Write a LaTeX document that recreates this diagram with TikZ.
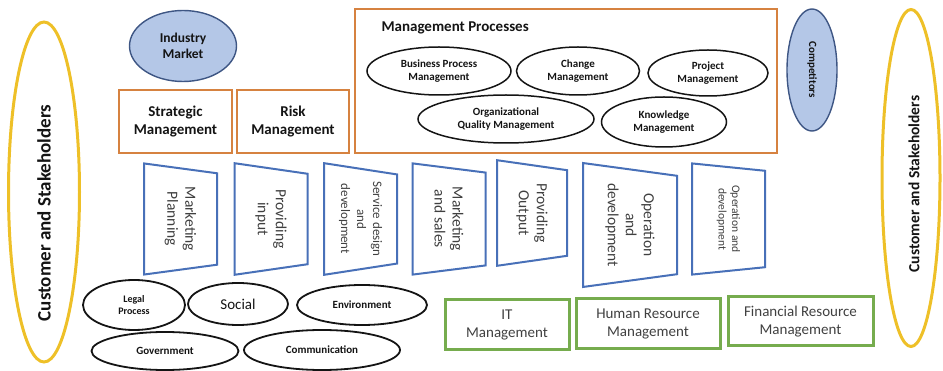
\documentclass[tikz,border=0pt]{standalone}
\usepackage{fontspec}
\setmainfont{Carlito}
\usetikzlibrary{shapes.geometric}
\definecolor{gold}{RGB}{238,192,40}
\definecolor{rust}{RGB}{214,130,64}
\definecolor{steel}{RGB}{72,112,184}
\definecolor{paleblue}{RGB}{180,199,231}
\definecolor{slate}{RGB}{62,86,132}
\definecolor{leaf}{RGB}{118,172,78}
\definecolor{ink}{RGB}{20,20,20}
\definecolor{charcoal}{RGB}{64,64,64}
\newcommand{\setfs}[2]{\fontsize{#1}{#2}\selectfont}

\begin{document}
\begin{tikzpicture}[x=1pt, y=-1pt,
    stakeholder/.style={ellipse, draw=gold, line width=3pt, inner sep=0pt},
    ringtext/.style={text=ink, font=\bfseries\setfs{19}{22}},
    actor/.style={ellipse, draw=slate, line width=1.4pt, fill=paleblue, inner sep=0pt, align=center, text=ink},
    mgmtbox/.style={draw=rust, line width=2.5pt, inner sep=0pt, align=center, text=ink, font=\bfseries\setfs{15}{18}},
    process/.style={ellipse, draw=ink, line width=1.5pt, inner sep=0pt, align=center, text=ink, font=\bfseries\setfs{11}{13.5}},
    stagebox/.style={trapezium, trapezium stretches=true, trapezium angle=77.6, rotate=-90, draw=steel, line width=2pt, inner sep=0pt, align=center, text=charcoal, font=\setfs{15.5}{18}},
    factor/.style={ellipse, draw=ink, line width=1.8pt, inner sep=0pt, align=center, text=ink, font=\bfseries\setfs{11}{13.5}},
    resource/.style={draw=leaf, line width=3pt, inner sep=0pt, align=center, text=charcoal, font=\setfs{15}{18}}]
  \useasboundingbox (0,0) rectangle (943,371);

  % customers and stakeholders on both sides
  \node[stakeholder, minimum width=71, minimum height=340] (custL) at (44,192) {};
  \node[ringtext, rotate=90] (custLtext) at (44,213) {Customer and Stakeholders};
  \node[stakeholder, minimum width=58, minimum height=337] (custR) at (911,178) {};
  \node[ringtext, rotate=90, font=\bfseries\setfs{15.5}{18}] (custRtext) at (914,184) {Customer and Stakeholders};

  % top row
  \node[actor, minimum width=107, minimum height=71, font=\bfseries\setfs{13.5}{16.5}] (market) at (183,46) {Industry\\Market};
  \node[mgmtbox, minimum width=113, minimum height=63] (strategic) at (175.5,121.5) {Strategic\\Management};
  \node[mgmtbox, minimum width=112, minimum height=63] (risk) at (293,121.5) {Risk\\Management};
  \node[mgmtbox, minimum width=422, minimum height=144] (mgmt) at (566,81) {};
  \node[anchor=west, text=ink, font=\bfseries\setfs{15}{18}] (mgmttitle) at (378,28) {Management Processes};
  \node[process, minimum width=144, minimum height=48] (bpm) at (439,71) {Business Process\\Management};
  \node[process, minimum width=123, minimum height=48] (change) at (578,71) {Change\\Management};
  \node[process, minimum width=120, minimum height=46] (project) at (708,73) {Project\\Management};
  \node[process, minimum width=176, minimum height=48] (quality) at (506,119) {Organizational\\Quality Management};
  \node[process, minimum width=125, minimum height=50] (knowledge) at (664,122) {Knowledge\\Management};
  \node[actor, minimum width=122, minimum height=50, rotate=-90, font=\bfseries\setfs{11}{13}] (competitors) at (812,70) {Competitors};

  % value chain stages
  \node[stagebox, minimum width=112, minimum height=73] (mplan) at (180.5,219) {Marketing\\Planning};
  \node[stagebox, minimum width=112, minimum height=73] (input) at (271,219) {Providing\\input};
  \node[stagebox, minimum width=112, minimum height=73, font=\setfs{13}{16}] (service) at (360.5,219) {Service design\\and\\development};
  \node[stagebox, minimum width=112, minimum height=73] (sales) at (449,219) {Marketing\\and sales};
  \node[stagebox, minimum width=106, minimum height=70] (output) at (532,213) {Providing\\Output};
  \node[stagebox, minimum width=124, minimum height=94] (operation) at (630,225) {Operation\\and\\development};
  \node[stagebox, minimum width=112, minimum height=73, font=\setfs{11.5}{13.5}] (operation2) at (728.5,219) {Operation and\\development};

  % environment factors
  \node[factor, minimum width=102, minimum height=50, font=\bfseries\setfs{10}{12.5}] (legal) at (134,305) {Legal\\Process};
  \node[factor, minimum width=100, minimum height=42, font=\setfs{15}{18}] (social) at (238,304) {Social};
  \node[factor, minimum width=130, minimum height=40] (environ) at (362,305) {Environment};
  \node[factor, minimum width=147, minimum height=38] (govt) at (165,351) {Government};
  \node[factor, minimum width=156, minimum height=40] (comm) at (322,350) {Communication};

  % resources
  \node[resource, minimum width=124, minimum height=50] (itmgmt) at (507,325) {IT\\Management};
  \node[resource, minimum width=144, minimum height=50] (hrmgmt) at (648,324) {Human Resource\\Management};
  \node[resource, minimum width=145, minimum height=49] (finmgmt) at (800.5,321.5) {Financial Resource\\Management};
\end{tikzpicture}
\end{document}
